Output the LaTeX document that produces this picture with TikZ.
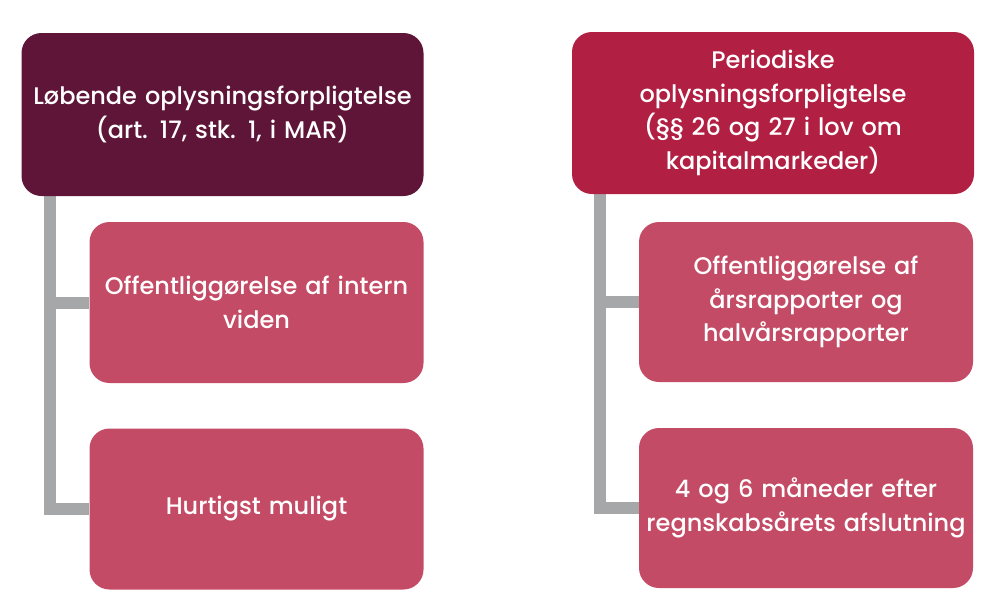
\documentclass[tikz,border=0pt]{standalone}
\usepackage{fontspec}
\setmainfont{Poppins}[UprightFont=* Medium]
\usetikzlibrary{backgrounds}
\definecolor{topdark}{HTML}{5E1538}
\definecolor{topred}{HTML}{B11F42}
\definecolor{childpink}{HTML}{C44B65}
\definecolor{linegray}{HTML}{A5A7A9}
\tikzset{
  box/.style={rectangle, rounded corners=20pt, inner sep=3pt, align=center,
    text=white, font=\fontsize{24}{33.5}\selectfont},
  topbox/.style={box, minimum width=401pt, minimum height=163pt, text width=396pt},
  childbox/.style={box, fill=childpink, minimum width=333pt, minimum height=161pt, text width=328pt},
  conn/.style={draw=linegray, line width=12pt, line join=miter, line cap=butt}
}
\begin{document}
\begin{tikzpicture}[x=1pt,y=-1pt]
\useasboundingbox (0,0) rectangle (992,606);
\node[topbox, fill=topdark] (lt) at (222.5,114.5) {Løbende oplysningsforpligtelse\\(art. 17, stk. 1, i MAR)};
\node[childbox] (lc1) at (256.5,302.5) {Offentliggørelse af intern\\viden};
\node[childbox] (lc2) at (256.5,509) {Hurtigst muligt};
\node[topbox, fill=topred, minimum width=400pt, minimum height=162pt] (rt) at (773,113) {Periodiske\\oplysningsforpligtelse\\(§§ 26 og 27 i lov om\\kapitalmarkeder)};
\node[childbox, minimum width=332pt, minimum height=160pt] (rc1) at (806,302) {Offentliggørelse af\\årsrapporter og\\halvårsrapporter};
\node[childbox, minimum width=332pt, minimum height=160pt] (rc2) at (806,508) {4 og 6 måneder efter\\regnskabsårets afslutning};
\coordinate (lroot) at (50,190);
\coordinate (rroot) at (600,188);
\begin{scope}[on background layer]
\draw[conn] (lroot) |- (lc2.west);
\draw[conn] (lroot) |- (lc1.west);
\draw[conn] (rroot) |- (rc2.west);
\draw[conn] (rroot) |- (rc1.west);
\end{scope}
\end{tikzpicture}
\end{document}
